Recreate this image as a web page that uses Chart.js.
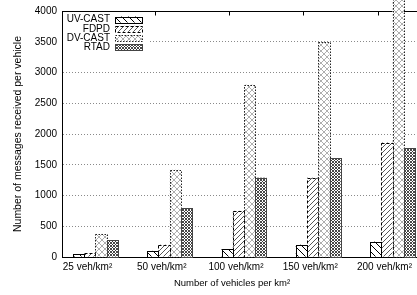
<!DOCTYPE html>
<html>
<head>
<meta charset="utf-8">
<script src="https://cdn.jsdelivr.net/npm/chart.js@4.4.0/dist/chart.umd.min.js"></script>
<style>
html, body { margin: 0; padding: 0; background: #fff; overflow: hidden; }
#wrap { width: 432px; height: 295px; }
</style>
</head>
<body>
<div id="wrap"><canvas id="chart" width="432" height="295"></canvas></div>
<script>
// Werte
var categories = ["25 veh/km²", "50 veh/km²", "100 veh/km²", "150 veh/km²", "200 veh/km²"];
var seriesNames = ["UV-CAST", "FDPD", "DV-CAST", "RTAD"];
var uvCast = [45, 100, 130, 200, 250];
var fdpd = [60, 200, 750, 1290, 1860];
var dvCast = [375, 1420, 2800, 3490, 4300];
var rtad = [270, 790, 1290, 1610, 1770];
var yTicks = [0, 500, 1000, 1500, 2000, 2500, 3000, 3500, 4000];

var FONT = "'Liberation Sans', Arial, sans-serif";
var canvas = document.getElementById("chart");
var mainCtx = canvas.getContext("2d");

// kleines Kachelmuster fuer die Balkenfuellung
function makePattern(size, color, width, dirs) {
    var c = document.createElement("canvas"),
        g = c.getContext("2d");
    c.width = size;
    c.height = size;
    g.fillStyle = "#fff";
    g.fillRect(0, 0, size, size);
    g.strokeStyle = color;
    g.lineWidth = width;
    dirs.forEach(function (d) {
        g.beginPath();
        for (var k = -size; k <= size; k += size) {
            if (d === "\\") {
                g.moveTo(k, 0);
                g.lineTo(k + size, size);
            } else {
                g.moveTo(k, size);
                g.lineTo(k + size, 0);
            }
        }
        g.stroke();
    });
    return mainCtx.createPattern(c, "repeat");
}

var fills = [
    makePattern(7, "#000", 1, ["\\"]),
    makePattern(5, "#444", 0.9, ["/"]),
    makePattern(6, "#999", 0.8, ["/", "\\"]),
    makePattern(3, "#333", 0.9, ["/", "\\"])
];
var edges = [
    { color: "#000", dash: [] },
    { color: "#000", dash: [3, 2] },
    { color: "#222", dash: [1.5, 1.5] },
    { color: "#444", dash: [] }
];

function toPoints(values) {
    return values.map(function (v, i) { return { x: i, y: v }; });
}

// Balkenraender selbst zeichnen (gestrichelt), Chart.js kann das fuer Balken nicht
var barEdges = {
    id: "barEdges",
    afterDatasetsDraw: function (chart) {
        var ctx = chart.ctx;
        chart.data.datasets.forEach(function (ds, i) {
            var meta = chart.getDatasetMeta(i);
            ctx.save();
            ctx.strokeStyle = edges[i].color;
            ctx.lineWidth = 1;
            ctx.setLineDash(edges[i].dash);
            meta.data.forEach(function (bar) {
                var p = bar.getProps(["x", "y", "base", "width"], true),
                    l = Math.round(p.x - p.width / 2) + 0.5,
                    r = Math.round(p.x + p.width / 2) + 0.5,
                    t = Math.round(p.y) + 0.5,
                    b = Math.round(p.base) + 0.5;
                ctx.strokeRect(l, t, r - l, b - t);
            });
            ctx.restore();
        });
    }
};

// obere Rahmenlinie und kleine Striche oben
var frameTop = {
    id: "frameTop",
    beforeDatasetsDraw: function (chart) {
        var ctx = chart.ctx,
            area = chart.chartArea,
            xs = chart.scales.x,
            top = Math.round(area.top) + 0.5;
        ctx.save();
        ctx.strokeStyle = "#000";
        ctx.lineWidth = 1;
        ctx.beginPath();
        ctx.moveTo(area.left, top);
        ctx.lineTo(area.right, top);
        categories.forEach(function (c, i) {
            var x = Math.round(xs.getPixelForValue(i) - 15) + 0.5;
            ctx.moveTo(x, top);
            ctx.lineTo(x, top + 4);
        });
        ctx.stroke();
        ctx.restore();
    }
};

// Legende oben links im Diagramm, Text rechtsbuendig, Muster rechts daneben
var keyBox = {
    id: "keyBox",
    afterDatasetsDraw: function (chart) {
        var ctx = chart.ctx,
            area = chart.chartArea,
            x0 = area.left;
        ctx.save();
        ctx.fillStyle = "#fff";
        ctx.fillRect(x0 + 1, area.top + 1, 85, 40);
        ctx.font = "10px " + FONT;
        ctx.textAlign = "right";
        ctx.textBaseline = "middle";
        seriesNames.forEach(function (name, i) {
            var y = area.top + 8.5 + i * 9.3;
            ctx.fillStyle = "#000";
            ctx.fillText(name, x0 + 48, y);
            ctx.fillStyle = fills[i];
            ctx.fillRect(x0 + 53, y - 3, 27, 6);
            ctx.strokeStyle = edges[i].color;
            ctx.setLineDash(edges[i].dash);
            ctx.lineWidth = 1;
            ctx.strokeRect(Math.round(x0 + 53) + 0.5, Math.round(y - 3) + 0.5, 27, 6);
        });
        ctx.restore();
    }
};

// Achsentitel
var axisTitles = {
    id: "axisTitles",
    afterDraw: function (chart) {
        var ctx = chart.ctx,
            area = chart.chartArea;
        ctx.save();
        ctx.fillStyle = "#000";
        ctx.textAlign = "center";
        ctx.textBaseline = "middle";
        ctx.font = "9.5px " + FONT;
        ctx.fillText("Number of vehicles per km²", area.left + 170, 283);
        ctx.font = "10.5px " + FONT;
        ctx.translate(18, (area.top + area.bottom) / 2);
        ctx.rotate(-Math.PI / 2);
        ctx.fillText("Number of messages received per vehicle", 0, 0);
        ctx.restore();
    }
};

new Chart(canvas, {
    type: "bar",
    data: {
        datasets: [
            { label: seriesNames[0], data: toPoints(uvCast), backgroundColor: fills[0], borderWidth: 0 },
            { label: seriesNames[1], data: toPoints(fdpd), backgroundColor: fills[1], borderWidth: 0 },
            { label: seriesNames[2], data: toPoints(dvCast), backgroundColor: fills[2], borderWidth: 0, clip: false },
            { label: seriesNames[3], data: toPoints(rtad), backgroundColor: fills[3], borderWidth: 0 }
        ]
    },
    options: {
        responsive: false,
        animation: false,
        events: [],
        layout: { padding: { left: 0, right: 6, top: 7, bottom: 0 } },
        datasets: { bar: { categoryPercentage: 0.606, barPercentage: 1.0 } },
        plugins: { legend: { display: false }, tooltip: { enabled: false } },
        scales: {
            x: {
                type: "linear",
                offset: false,
                min: -0.451,
                max: 4.451,
                afterFit: function (s) { s.height = 38; },
                afterBuildTicks: function (s) {
                    s.ticks = categories.map(function (c, i) { return { value: i }; });
                },
                grid: { display: false, drawTicks: false, offset: false },
                border: { display: true, color: "#000", width: 1 },
                ticks: {
                    padding: 4,
                    labelOffset: -8,
                    maxRotation: 0,
                    autoSkip: false,
                    color: "#000",
                    font: { family: FONT, size: 10 },
                    callback: function (v) { return categories[v]; }
                }
            },
            y: {
                min: 0,
                max: 4000,
                afterFit: function (s) { s.width = 62; },
                afterBuildTicks: function (s) {
                    s.ticks = yTicks.map(function (v) { return { value: v }; });
                },
                grid: { color: "#8a8a8a", lineWidth: 1, drawTicks: false },
                border: { display: true, color: "#000", width: 1, dash: [1, 2] },
                ticks: {
                    padding: 5,
                    color: "#000",
                    font: { family: FONT, size: 10 },
                    callback: function (v) { return String(v); }
                }
            }
        }
    },
    plugins: [frameTop, barEdges, keyBox, axisTitles]
});
</script>
</body>
</html>
